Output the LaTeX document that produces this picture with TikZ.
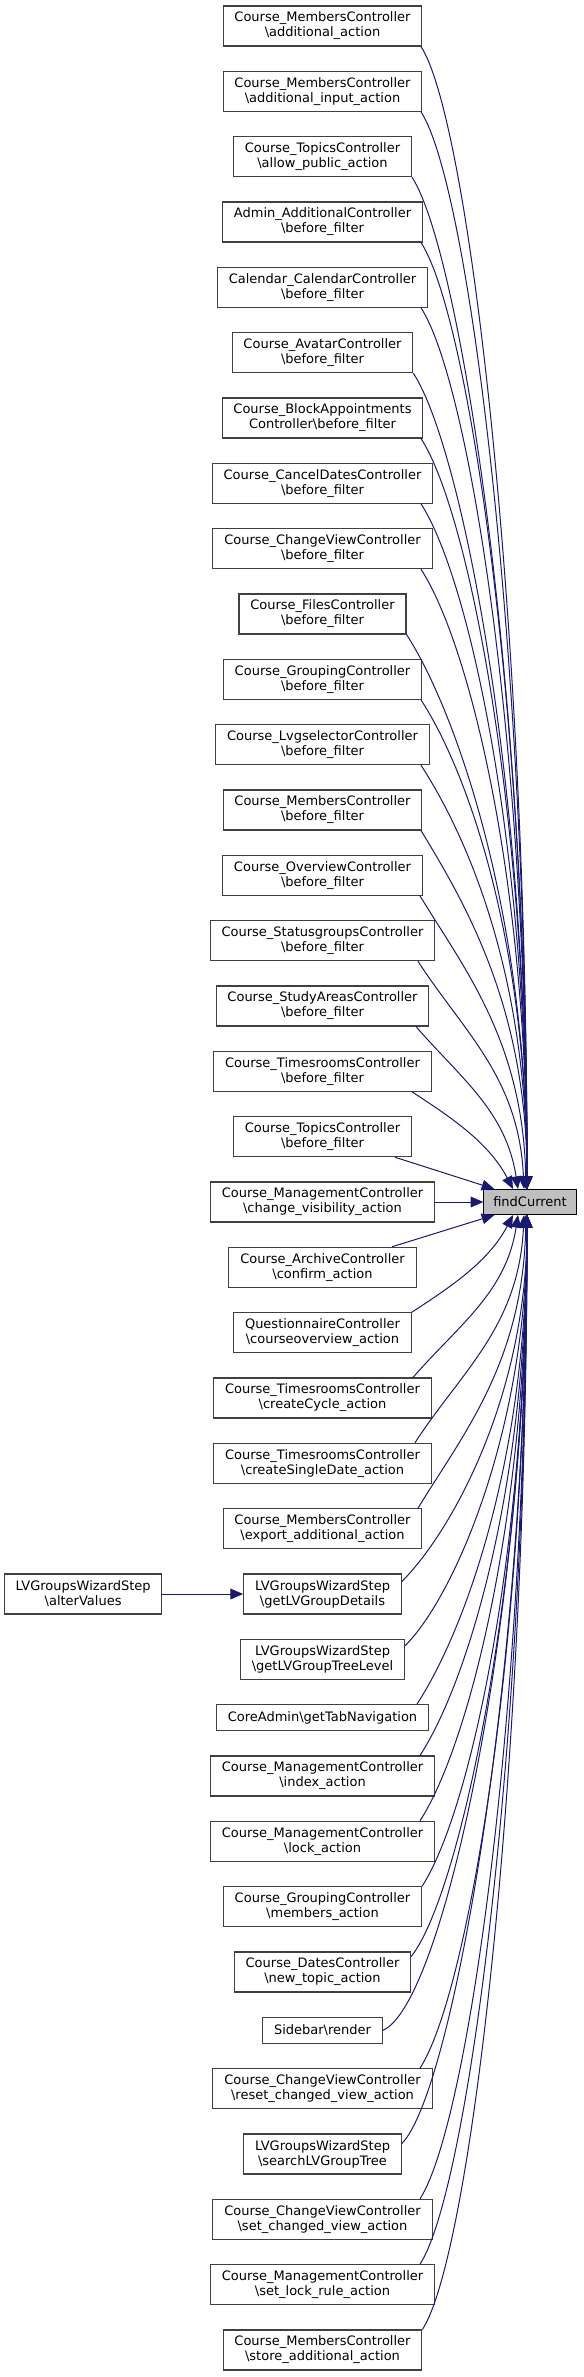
\documentclass[tikz,border=0pt]{standalone}
\usepackage{fontspec}
\setmainfont{DejaVu Sans}
\usetikzlibrary{arrows.meta,positioning}
\definecolor{EdgeNavy}{HTML}{191970}
\definecolor{BoxGrey}{HTML}{404040}
\definecolor{RootGrey}{HTML}{BFBFBF}

\begin{document}
\begin{tikzpicture}[
    x=0.75pt, y=-0.75pt,
    >={Triangle[length=9.5pt,width=8pt]},
    every node/.style={font=\fontsize{9.75}{11.25}\selectfont},
    callbox/.style={draw=BoxGrey, line width=0.8pt, align=center, inner xsep=8.5pt, inner ysep=1pt, minimum height=30pt},
    linebox/.style={callbox, minimum height=19.5pt},
    rootbox/.style={linebox, fill=RootGrey, draw=black, inner xsep=7pt, minimum height=18.75pt},
    calledge/.style={->, EdgeNavy, line width=0.75pt}
]
\useasboundingbox (0,0) rectangle (583,2377);

% the function that is called
\node[rootbox] (fc) at (530,1202) {findCurrent};

% callers, one column
\node[callbox] (addact) at (322.5,26) {Course\_MembersController\\\textbackslash additional\_action};
\node[callbox] (addinp) at (322.5,91.3) {Course\_MembersController\\\textbackslash additional\_input\_action};
\node[callbox] (allowpub) at (322.5,156.7) {Course\_TopicsController\\\textbackslash allow\_public\_action};
\node[callbox] (adminbf) at (322.5,222) {Admin\_AdditionalController\\\textbackslash before\_filter};
\node[callbox] (calbf) at (322.5,287.3) {Calendar\_CalendarController\\\textbackslash before\_filter};
\node[callbox] (avatarbf) at (322.5,352.7) {Course\_AvatarController\\\textbackslash before\_filter};
\node[callbox] (blockbf) at (322.5,418) {Course\_BlockAppointments\\Controller\textbackslash before\_filter};
\node[callbox] (cancelbf) at (322.5,483.3) {Course\_CancelDatesController\\\textbackslash before\_filter};
\node[callbox] (chviewbf) at (322.5,548.7) {Course\_ChangeViewController\\\textbackslash before\_filter};
\node[callbox] (filesbf) at (322.5,614) {Course\_FilesController\\\textbackslash before\_filter};
\node[callbox] (groupbf) at (322.5,679.3) {Course\_GroupingController\\\textbackslash before\_filter};
\node[callbox] (lvgselbf) at (322.5,744.7) {Course\_LvgselectorController\\\textbackslash before\_filter};
\node[callbox] (membersbf) at (322.5,810) {Course\_MembersController\\\textbackslash before\_filter};
\node[callbox] (overviewbf) at (322.5,875.3) {Course\_OverviewController\\\textbackslash before\_filter};
\node[callbox] (statusbf) at (322.5,940.7) {Course\_StatusgroupsController\\\textbackslash before\_filter};
\node[callbox] (studybf) at (322.5,1006) {Course\_StudyAreasController\\\textbackslash before\_filter};
\node[callbox] (timesbf) at (322.5,1071.3) {Course\_TimesroomsController\\\textbackslash before\_filter};
\node[callbox] (topicsbf) at (322.5,1136.7) {Course\_TopicsController\\\textbackslash before\_filter};
\node[callbox] (chvis) at (322.5,1202) {Course\_ManagementController\\\textbackslash change\_visibility\_action};
\node[callbox] (confirm) at (322.5,1267.3) {Course\_ArchiveController\\\textbackslash confirm\_action};
\node[callbox] (courseov) at (322.5,1332.7) {QuestionnaireController\\\textbackslash courseoverview\_action};
\node[callbox] (crcycle) at (322.5,1398) {Course\_TimesroomsController\\\textbackslash createCycle\_action};
\node[callbox] (crsingle) at (322.5,1463.3) {Course\_TimesroomsController\\\textbackslash createSingleDate\_action};
\node[callbox] (expadd) at (322.5,1528.7) {Course\_MembersController\\\textbackslash export\_additional\_action};
\node[callbox] (getdet) at (322.5,1594) {LVGroupsWizardStep\\\textbackslash getLVGroupDetails};
\node[callbox] (gettree) at (322.5,1659.3) {LVGroupsWizardStep\\\textbackslash getLVGroupTreeLevel};
\node[linebox] (tabnav) at (322.5,1717.6) {CoreAdmin\textbackslash getTabNavigation};
\node[callbox] (index) at (322.5,1776) {Course\_ManagementController\\\textbackslash index\_action};
\node[callbox] (lock) at (322.5,1841.3) {Course\_ManagementController\\\textbackslash lock\_action};
\node[callbox] (members) at (322.5,1906.7) {Course\_GroupingController\\\textbackslash members\_action};
\node[callbox] (newtopic) at (322.5,1972) {Course\_DatesController\\\textbackslash new\_topic\_action};
\node[linebox] (render) at (322.5,2030.3) {Sidebar\textbackslash render};
\node[callbox] (reset) at (322.5,2088.7) {Course\_ChangeViewController\\\textbackslash reset\_changed\_view\_action};
\node[callbox] (search) at (322.5,2154) {LVGroupsWizardStep\\\textbackslash searchLVGroupTree};
\node[callbox] (setview) at (322.5,2219.3) {Course\_ChangeViewController\\\textbackslash set\_changed\_view\_action};
\node[callbox] (setlock) at (322.5,2284.7) {Course\_ManagementController\\\textbackslash set\_lock\_rule\_action};
\node[callbox] (store) at (322.5,2350) {Course\_MembersController\\\textbackslash store\_additional\_action};

% caller of a caller
\node[callbox, left=60.5pt of getdet] (alter) {LVGroupsWizardStep\\\textbackslash alterValues};
\draw[calledge] (alter) -- (getdet);

% calls from above
\draw[calledge] (addact.south -| 421,0) .. controls +(48,74) and +(0,-571) .. ([shift={(-3,0)}]fc.north);
\draw[calledge] (addinp.south -| 421,0) .. controls +(48,74) and +(0,-539) .. ([shift={(-3,0)}]fc.north);
\draw[calledge] (allowpub.south east) .. controls +(48,74) and +(0,-506) .. ([shift={(-3,0)}]fc.north);
\draw[calledge] (adminbf.south -| 421,0) .. controls +(48,74) and +(0,-474) .. ([shift={(-3,0)}]fc.north);
\draw[calledge] (calbf.south -| 421,0) .. controls +(48,74) and +(0,-441) .. ([shift={(-3,0)}]fc.north);
\draw[calledge] (avatarbf.south east) .. controls +(48,74) and +(0,-408) .. ([shift={(-3,0)}]fc.north);
\draw[calledge] (blockbf.south -| 421,0) .. controls +(48,74) and +(0,-376) .. ([shift={(-3,0)}]fc.north);
\draw[calledge] (cancelbf.south -| 421,0) .. controls +(48,74) and +(0,-343) .. ([shift={(-3,0)}]fc.north);
\draw[calledge] (chviewbf.south -| 421,0) .. controls +(48,74) and +(0,-310) .. ([shift={(-3,0)}]fc.north);
\draw[calledge] (filesbf.south east) .. controls +(48,74) and +(0,-278) .. ([shift={(-3,0)}]fc.north);
\draw[calledge] (groupbf.south -| 421,0) .. controls +(48,74) and +(0,-245) .. ([shift={(-3,0)}]fc.north);
\draw[calledge] (lvgselbf.south -| 421,0) .. controls +(48,74) and +(0,-212) .. ([shift={(-3,0)}]fc.north);
\draw[calledge] (membersbf.south -| 421,0) .. controls +(45,74) and +(0,-180) .. ([shift={(-3,0)}]fc.north);
\draw[calledge] (overviewbf.south -| 420,0) .. controls +(45,74) and +(-3,-147) .. ([shift={(-4,0)}]fc.north);
\draw[calledge] (statusbf.south -| 418,0) .. controls +(45,70) and +(-5,-112) .. ([shift={(-6,0)}]fc.north);
\draw[calledge] (studybf.south -| 416,0) .. controls +(45,52) and +(-12,-78) .. ([shift={(-12,0)}]fc.north);
\draw[calledge] (timesbf.south -| 412,0) .. controls +(40,26) and +(-24,-46) .. ([shift={(-17,0)}]fc.north);
\draw[calledge] (topicsbf.south -| 395,0) -- ([shift={(11,0)}]fc.north west);

\draw[calledge] (chvis) -- (fc);

% calls from below
\draw[calledge] (confirm.north -| 392,0) -- ([shift={(11,0)}]fc.south west);
\draw[calledge] (courseov.north east) .. controls +(40,-26) and +(-24,46) .. ([shift={(-17,0)}]fc.south);
\draw[calledge] (crcycle.north -| 413,0) .. controls +(45,-52) and +(-12,78) .. ([shift={(-12,0)}]fc.south);
\draw[calledge] (crsingle.north -| 415,0) .. controls +(45,-70) and +(-5,112) .. ([shift={(-6,0)}]fc.south);
\draw[calledge] (expadd.north -| 418,0) .. controls +(45,-74) and +(-3,147) .. ([shift={(-4,0)}]fc.south);
\draw[calledge] ([shift={(0,8)}]getdet.north east) .. controls +(50,-50) and +(0,180) .. ([shift={(-3,0)}]fc.south);
\draw[calledge] ([shift={(0,7)}]gettree.north east) .. controls +(50,-50) and +(0,213) .. ([shift={(-3,0)}]fc.south);
\draw[calledge] (tabnav.north -| 417,0) .. controls +(48,-74) and +(0,245) .. ([shift={(-3,0)}]fc.south);
\draw[calledge] (index.north -| 420,0) .. controls +(48,-74) and +(0,271) .. ([shift={(-3,0)}]fc.south);
\draw[calledge] (lock.north -| 420,0) .. controls +(48,-74) and +(0,304) .. ([shift={(-3,0)}]fc.south);
\draw[calledge] (members.north east) .. controls +(48,-74) and +(0,336) .. ([shift={(-3,0)}]fc.south);
\draw[calledge] ([shift={(0,5)}]newtopic.north east) .. controls +(48,-60) and +(0,369) .. ([shift={(-3,0)}]fc.south);
\draw[calledge] (render.east) .. controls +(60,-25) and +(0,402) .. ([shift={(-3,0)}]fc.south);
\draw[calledge] (reset.north -| 420,0) .. controls +(48,-74) and +(0,427) .. ([shift={(-3,0)}]fc.south);
\draw[calledge] ([shift={(0,10)}]search.north east) .. controls +(50,-50) and +(0,460) .. ([shift={(-3,0)}]fc.south);
\draw[calledge] (setview.north -| 420,0) .. controls +(48,-74) and +(0,493) .. ([shift={(-3,0)}]fc.south);
\draw[calledge] (setlock.north -| 420,0) .. controls +(48,-74) and +(0,525) .. ([shift={(-3,0)}]fc.south);
\draw[calledge] (store.north east) .. controls +(48,-74) and +(0,558) .. ([shift={(-3,0)}]fc.south);
\end{tikzpicture}
\end{document}
